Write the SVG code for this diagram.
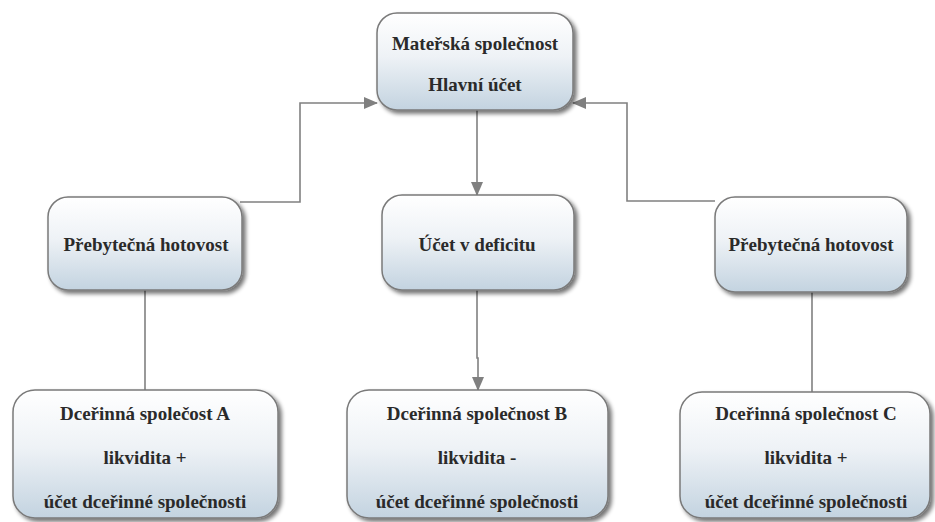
<svg xmlns="http://www.w3.org/2000/svg" width="935" height="522" viewBox="0 0 935 522">
<defs>
<linearGradient id="g" x1="0" y1="0" x2="0" y2="1">
<stop offset="0" stop-color="#ffffff"/>
<stop offset="0.45" stop-color="#eef2f6"/>
<stop offset="1" stop-color="#c3d3e0"/>
</linearGradient>
<filter id="sh" x="-10%" y="-10%" width="125%" height="130%">
<feGaussianBlur in="SourceAlpha" stdDeviation="2"/>
<feOffset dx="3" dy="3" result="b"/>
<feComponentTransfer><feFuncA type="linear" slope="0.55"/></feComponentTransfer>
<feMerge><feMergeNode/><feMergeNode in="SourceGraphic"/></feMerge>
</filter>
<marker id="ah" viewBox="0 0 14 12" refX="13" refY="6" markerWidth="14" markerHeight="12" markerUnits="userSpaceOnUse" orient="auto">
<path d="M0,0 L14,6 L0,12 z" fill="#808080"/>
</marker>
</defs>
<style>
.box{fill:url(#g);stroke:#7a7a7a;stroke-width:1.5;filter:url(#sh)}
.t{font-family:'Liberation Serif','DejaVu Serif','Noto Serif',serif;font-weight:700;font-size:19px;fill:#2a2a2a;text-anchor:middle}
.c{fill:none;stroke:#808080;stroke-width:1.6}
</style>
<rect width="935" height="522" fill="#ffffff"/>
<g id="connectors">
<path class="c" d="M240,202 H300 V103 H377" marker-end="url(#ah)"/>
<path class="c" d="M715,201 H627 V103 H573" marker-end="url(#ah)"/>
<path class="c" d="M477,110 V195" marker-end="url(#ah)"/>
<path class="c" d="M145,290 V390"/>
<path class="c" d="M477,290 V358 H478 V390" marker-end="url(#ah)"/>
<path class="c" d="M812,292 V392"/>
</g>
<g id="n-parent">
<rect class="box" x="377" y="13" width="196" height="97" rx="20"/>
<text class="t" x="475" y="50">Mateřská společnost</text>
<text class="t" x="475" y="91">Hlavní účet</text>
</g>
<g id="n-surplus-a">
<rect class="box" x="48" y="197" width="194" height="93" rx="20"/>
<text class="t" x="146" y="251">Přebytečná hotovost</text>
</g>
<g id="n-deficit">
<rect class="box" x="382" y="195" width="192" height="95" rx="20"/>
<text class="t" x="477" y="251">Účet v deficitu</text>
</g>
<g id="n-surplus-c">
<rect class="box" x="715" y="197" width="192" height="95" rx="20"/>
<text class="t" x="811" y="251">Přebytečná hotovost</text>
</g>
<g id="n-sub-a">
<rect class="box" x="13" y="390" width="265" height="128" rx="22"/>
<text class="t" x="145" y="420">Dceřinná společost A</text>
<text class="t" x="145" y="464">likvidita +</text>
<text class="t" x="145" y="508">účet dceřinné společnosti</text>
</g>
<g id="n-sub-b">
<rect class="box" x="347" y="390" width="261" height="128" rx="22"/>
<text class="t" x="477" y="420">Dceřinná společnost B</text>
<text class="t" x="477" y="464">likvidita -</text>
<text class="t" x="477" y="508">účet dceřinné společnosti</text>
</g>
<g id="n-sub-c">
<rect class="box" x="680" y="392" width="250" height="126" rx="22"/>
<text class="t" x="806" y="420">Dceřinná společnost C</text>
<text class="t" x="806" y="464">likvidita +</text>
<text class="t" x="806" y="508">účet dceřinné společnosti</text>
</g>
</svg>
